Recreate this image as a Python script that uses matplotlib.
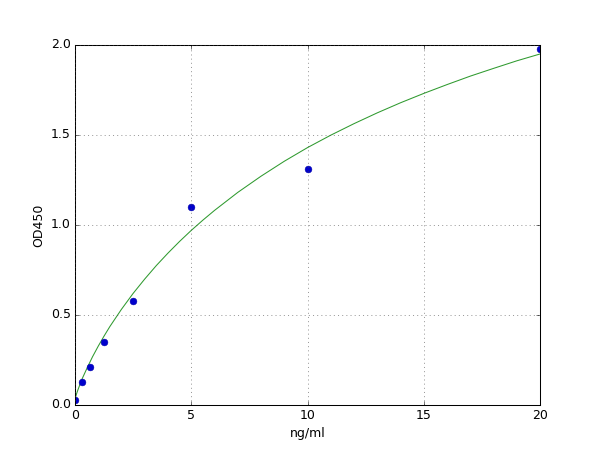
import numpy as np
import matplotlib
matplotlib.use('Agg')
import matplotlib.pyplot as plt

plt.style.use('classic')

# standards
conc = [0, 0.3125, 0.625, 1.25, 2.5, 5, 10, 20]
od = [0.03, 0.13, 0.21, 0.35, 0.58, 1.10, 1.31, 1.98]

# fitted curve
curve_x = [0, 0.05, 0.1, 0.25, 0.3125, 0.5, 0.75, 1, 1.25, 1.5, 2, 2.5, 3, 3.5, 4, 4.5,
           5, 5.5, 6, 7, 8, 9, 10, 11, 12, 13, 14, 15, 16, 17, 18, 19, 20]
curve_y = [0.03, 0.055, 0.075, 0.127, 0.147, 0.20, 0.267, 0.327, 0.383, 0.436, 0.532,
           0.62, 0.70, 0.775, 0.844, 0.909, 0.97, 1.027, 1.081, 1.181, 1.271, 1.354, 1.43,
           1.499, 1.563, 1.623, 1.679, 1.731, 1.780, 1.827, 1.870, 1.912, 1.950]

fig = plt.figure(figsize=(8, 6), dpi=75, facecolor='white')
ax = fig.add_subplot(111)
ax.plot(curve_x, curve_y, '-', color='#2f9a2f')
ax.plot(conc, od, 'o', color='#0000cc', markeredgecolor='#0000aa', markersize=6.5)
ax.set_xlim(0, 20)
ax.set_ylim(0, 2.0)
ax.set_xticks([0, 5, 10, 15, 20])
ax.set_yticks([0.0, 0.5, 1.0, 1.5, 2.0])
ax.set_xlabel('ng/ml')
ax.set_ylabel('OD450')
ax.grid(True, color='#444444')
fig.savefig('out.png', dpi=75, facecolor='white')
